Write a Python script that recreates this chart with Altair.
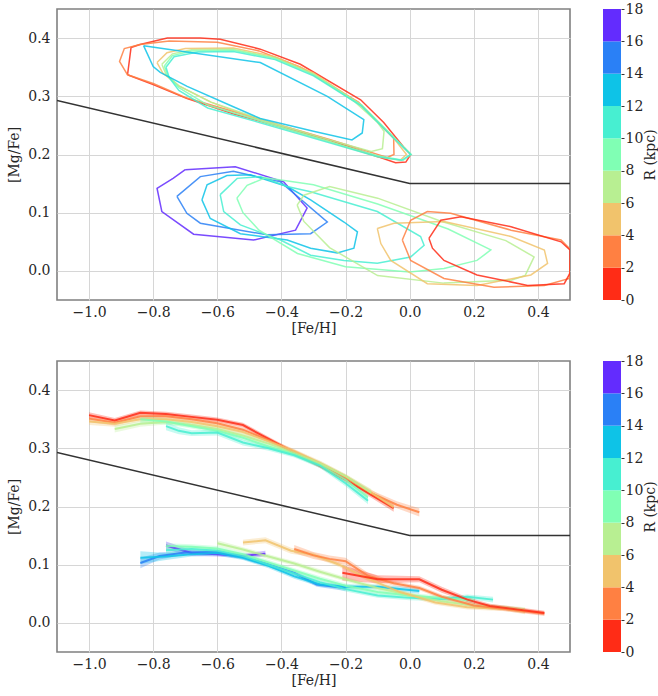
import altair as alt
import pandas as pd

# ---------------- data ----------------
R_BINS = ["0-2", "2-4", "4-6", "6-8", "8-10", "10-12", "12-14", "14-16", "16-18"]
R_LO = [0, 2, 4, 6, 8, 10, 12, 14, 16]
R_HI = [2, 4, 6, 8, 10, 12, 14, 16, 18]
R_COLORS = ["#ff2c16", "#ff8042", "#f1c36c", "#b8ef92", "#80ffb4",
            "#47efd1", "#0ec3e7", "#2a80f6", "#632cfe"]

X_TICKS = [-1.0, -0.8, -0.6, -0.4, -0.2, 0.0, 0.2, 0.4]
Y_TICKS = [0.0, 0.1, 0.2, 0.3, 0.4]
CB_TICKS = [0, 2, 4, 6, 8, 10, 12, 14, 16, 18]

# dividing line between high- and low-alpha sequences
divider_feh = [-1.1, 0.0, 0.5]
divider_mgfe = [0.293, 0.15, 0.15]

# --- top panel: density contours ([Fe/H], [Mg/Fe]) ---
contour_hi_0_2 = [(-0.88, 0.337), (-0.869, 0.384), (-0.841, 0.389), (-0.756, 0.400), (-0.653, 0.400),
                  (-0.591, 0.398), (-0.466, 0.381), (-0.341, 0.355), (-0.153, 0.294), (-0.081, 0.255),
                  (-0.019, 0.213), (0.003, 0.200), (-0.012, 0.187), (-0.044, 0.186), (-0.247, 0.224),
                  (-0.55, 0.270), (-0.694, 0.296), (-0.80, 0.320)]
contour_hi_2_4 = [(-0.88, 0.337), (-0.905, 0.360), (-0.89, 0.382), (-0.841, 0.389), (-0.75, 0.395),
                  (-0.60, 0.393), (-0.47, 0.378), (-0.34, 0.350), (-0.16, 0.290), (-0.09, 0.250),
                  (-0.05, 0.228), (-0.049, 0.200), (-0.07, 0.195), (-0.25, 0.226), (-0.55, 0.274),
                  (-0.70, 0.298), (-0.80, 0.322)]
contour_hi_4_6 = [(-0.788, 0.358), (-0.757, 0.375), (-0.70, 0.382), (-0.55, 0.383), (-0.42, 0.368),
                  (-0.30, 0.340), (-0.15, 0.285), (-0.06, 0.235), (-0.01, 0.200), (-0.03, 0.190),
                  (-0.10, 0.196), (-0.25, 0.222), (-0.45, 0.255), (-0.62, 0.290), (-0.72, 0.318),
                  (-0.77, 0.340)]
contour_hi_6_8 = [(-0.773, 0.355), (-0.74, 0.373), (-0.68, 0.380), (-0.55, 0.381), (-0.42, 0.366),
                  (-0.30, 0.338), (-0.17, 0.290), (-0.10, 0.255), (-0.08, 0.240), (-0.085, 0.210),
                  (-0.12, 0.205), (-0.25, 0.225), (-0.45, 0.258), (-0.62, 0.290), (-0.72, 0.318),
                  (-0.76, 0.338)]
contour_hi_8_10 = [(-0.765, 0.352), (-0.74, 0.370), (-0.68, 0.378), (-0.55, 0.379), (-0.42, 0.365),
                   (-0.30, 0.337), (-0.15, 0.285), (-0.05, 0.230), (0.005, 0.200), (-0.02, 0.190),
                   (-0.10, 0.198), (-0.25, 0.222), (-0.45, 0.255), (-0.63, 0.285), (-0.72, 0.315),
                   (-0.755, 0.335)]
contour_hi_10_12 = [(-0.76, 0.350), (-0.735, 0.368), (-0.66, 0.376), (-0.55, 0.377), (-0.42, 0.363),
                    (-0.30, 0.335), (-0.15, 0.283), (-0.05, 0.228), (0.003, 0.200), (-0.025, 0.190),
                    (-0.10, 0.196), (-0.25, 0.220), (-0.45, 0.252), (-0.63, 0.280), (-0.72, 0.310),
                    (-0.75, 0.332)]
contour_hi_12_14 = [(-0.83, 0.387), (-0.466, 0.358), (-0.257, 0.300), (-0.143, 0.260), (-0.148, 0.237),
                    (-0.18, 0.225), (-0.30, 0.240), (-0.466, 0.262), (-0.55, 0.282), (-0.694, 0.317),
                    (-0.778, 0.341), (-0.80, 0.351)]

contour_lo_16_18 = [(-0.700, 0.174), (-0.544, 0.179), (-0.393, 0.153), (-0.320, 0.108), (-0.356, 0.070),
                    (-0.487, 0.053), (-0.674, 0.063), (-0.773, 0.102), (-0.788, 0.142), (-0.738, 0.159)]
contour_lo_14_16 = [(-0.726, 0.128), (-0.653, 0.162), (-0.55, 0.171), (-0.403, 0.153), (-0.257, 0.084),
                    (-0.309, 0.064), (-0.445, 0.062), (-0.653, 0.082), (-0.695, 0.099)]
contour_lo_12_14 = [(-0.648, 0.122), (-0.632, 0.148), (-0.570, 0.164), (-0.497, 0.165), (-0.382, 0.145),
                    (-0.309, 0.122), (-0.205, 0.084), (-0.163, 0.067), (-0.174, 0.039), (-0.226, 0.031),
                    (-0.309, 0.039), (-0.382, 0.053), (-0.528, 0.064), (-0.622, 0.090)]
contour_lo_10_12 = [(-0.591, 0.131), (-0.538, 0.159), (-0.466, 0.162), (-0.382, 0.145), (-0.309, 0.136),
                    (-0.101, 0.102), (0.034, 0.059), (0.045, 0.044), (0.003, 0.024), (-0.101, 0.013),
                    (-0.205, 0.018), (-0.309, 0.027), (-0.403, 0.053), (-0.528, 0.079), (-0.580, 0.102)]
contour_lo_8_10 = [(-0.539, 0.125), (-0.507, 0.147), (-0.45, 0.160), (-0.30, 0.148), (-0.10, 0.115),
                   (0.12, 0.072), (0.253, 0.036), (0.21, 0.018), (0.107, 0.004), (0.0, -0.002),
                   (-0.20, 0.007), (-0.35, 0.030), (-0.47, 0.070), (-0.52, 0.100)]
contour_lo_6_8 = [(-0.351, 0.113), (-0.33, 0.130), (-0.25, 0.145), (-0.10, 0.125), (0.10, 0.085),
                  (0.30, 0.052), (0.388, 0.024), (0.36, -0.008), (0.316, -0.016), (0.106, -0.021),
                  (-0.10, -0.008), (-0.25, 0.040), (-0.33, 0.085)]
contour_lo_4_6 = [(-0.101, 0.073), (-0.049, 0.082), (0.107, 0.085), (0.316, 0.059), (0.42, 0.036),
                  (0.43, 0.013), (0.378, -0.007), (0.21, -0.025), (0.055, -0.022), (-0.059, 0.018),
                  (-0.09, 0.047)]
contour_lo_2_4 = [(-0.023, 0.053), (0.003, 0.087), (0.055, 0.102), (0.128, 0.099), (0.316, 0.070),
                  (0.472, 0.053), (0.503, 0.036), (0.498, -0.013), (0.42, -0.025), (0.263, -0.028),
                  (0.107, -0.013), (0.003, 0.018)]
contour_lo_0_2 = [(0.06, 0.056), (0.097, 0.087), (0.16, 0.093), (0.316, 0.076), (0.472, 0.050),
                  (0.50, 0.036), (0.50, -0.004), (0.482, -0.022), (0.368, -0.025), (0.21, -0.007),
                  (0.107, 0.018), (0.071, 0.039)]

# --- bottom panel: running medians (feh, mgfe, half-width of shaded band) ---
median_hi_0_2_feh = [-1.0, -0.92, -0.84, -0.76, -0.68, -0.6, -0.52, -0.44, -0.36, -0.28, -0.2, -0.12, -0.05]
median_hi_0_2_mgfe = [0.357, 0.348, 0.361, 0.359, 0.354, 0.349, 0.340, 0.316, 0.292, 0.270, 0.246, 0.220, 0.197]
median_hi_0_2_err = [0.005, 0.004, 0.004, 0.004, 0.004, 0.004, 0.004, 0.004, 0.004, 0.004, 0.004, 0.005, 0.006]
median_hi_2_4_feh = [-1.0, -0.92, -0.84, -0.76, -0.68, -0.6, -0.52, -0.44, -0.36, -0.28, -0.2, -0.12, -0.04, 0.03]
median_hi_2_4_mgfe = [0.351, 0.344, 0.355, 0.355, 0.350, 0.343, 0.332, 0.314, 0.294, 0.273, 0.250, 0.223, 0.203, 0.190]
median_hi_2_4_err = [0.006, 0.005, 0.004, 0.004, 0.004, 0.004, 0.004, 0.004, 0.004, 0.004, 0.004, 0.005, 0.006, 0.007]
median_hi_4_6_feh = [-1.0, -0.92, -0.84, -0.76, -0.68, -0.6, -0.52, -0.44, -0.36, -0.28, -0.2, -0.12, -0.05]
median_hi_4_6_mgfe = [0.346, 0.342, 0.350, 0.350, 0.345, 0.338, 0.328, 0.312, 0.295, 0.275, 0.252, 0.224, 0.199]
median_hi_4_6_err = [0.006, 0.005, 0.004, 0.004, 0.004, 0.004, 0.004, 0.004, 0.004, 0.004, 0.004, 0.005, 0.006]
median_hi_6_8_feh = [-0.92, -0.84, -0.76, -0.68, -0.6, -0.52, -0.44, -0.36, -0.28, -0.2, -0.12]
median_hi_6_8_mgfe = [0.333, 0.342, 0.345, 0.340, 0.333, 0.322, 0.308, 0.292, 0.274, 0.252, 0.224]
median_hi_6_8_err = [0.006, 0.005, 0.004, 0.004, 0.004, 0.004, 0.004, 0.004, 0.004, 0.004, 0.006]
median_hi_8_10_feh = [-0.84, -0.76, -0.68, -0.6, -0.52, -0.44, -0.36, -0.28, -0.2, -0.13]
median_hi_8_10_mgfe = [0.350, 0.346, 0.338, 0.330, 0.318, 0.303, 0.290, 0.271, 0.246, 0.216]
median_hi_8_10_err = [0.006, 0.005, 0.004, 0.004, 0.004, 0.004, 0.004, 0.004, 0.004, 0.006]
median_hi_10_12_feh = [-0.76, -0.72, -0.68, -0.6, -0.52, -0.44, -0.36, -0.28, -0.2, -0.13]
median_hi_10_12_mgfe = [0.338, 0.330, 0.326, 0.327, 0.310, 0.300, 0.288, 0.270, 0.240, 0.210]
median_hi_10_12_err = [0.007, 0.006, 0.005, 0.005, 0.005, 0.004, 0.004, 0.004, 0.005, 0.006]

median_lo_16_18_feh = [-0.76, -0.68, -0.6, -0.52, -0.45]
median_lo_16_18_mgfe = [0.133, 0.120, 0.118, 0.115, 0.119]
median_lo_16_18_err = [0.007, 0.005, 0.004, 0.004, 0.005]
median_lo_14_16_feh = [-0.84, -0.78, -0.7, -0.6, -0.52, -0.44, -0.36, -0.29, -0.2]
median_lo_14_16_mgfe = [0.103, 0.115, 0.121, 0.122, 0.113, 0.100, 0.086, 0.066, 0.060]
median_lo_14_16_err = [0.009, 0.006, 0.004, 0.004, 0.004, 0.004, 0.004, 0.004, 0.005]
median_lo_12_14_feh = [-0.84, -0.76, -0.68, -0.6, -0.52, -0.44, -0.36, -0.28, -0.2, -0.1, 0.03]
median_lo_12_14_mgfe = [0.112, 0.114, 0.118, 0.120, 0.112, 0.098, 0.080, 0.066, 0.062, 0.062, 0.055]
median_lo_12_14_err = [0.011, 0.006, 0.004, 0.004, 0.004, 0.004, 0.004, 0.004, 0.004, 0.004, 0.005]
median_lo_10_12_feh = [-0.76, -0.68, -0.6, -0.52, -0.44, -0.36, -0.28, -0.2, -0.1, 0.0, 0.1, 0.18, 0.26]
median_lo_10_12_mgfe = [0.125, 0.127, 0.124, 0.115, 0.100, 0.085, 0.070, 0.058, 0.047, 0.043, 0.041, 0.045, 0.040]
median_lo_10_12_err = [0.006, 0.004, 0.004, 0.004, 0.004, 0.004, 0.004, 0.004, 0.004, 0.004, 0.004, 0.004, 0.005]
median_lo_8_10_feh = [-0.76, -0.68, -0.6, -0.52, -0.44, -0.36, -0.28, -0.2, -0.1, 0.0, 0.1, 0.2]
median_lo_8_10_mgfe = [0.132, 0.131, 0.128, 0.118, 0.104, 0.090, 0.076, 0.064, 0.053, 0.047, 0.043, 0.038]
median_lo_8_10_err = [0.005, 0.004, 0.004, 0.004, 0.004, 0.004, 0.004, 0.004, 0.004, 0.004, 0.004, 0.005]
median_lo_6_8_feh = [-0.6, -0.52, -0.44, -0.36, -0.28, -0.2, -0.1, 0.0, 0.1, 0.2, 0.3, 0.36]
median_lo_6_8_mgfe = [0.137, 0.126, 0.114, 0.102, 0.088, 0.075, 0.060, 0.048, 0.037, 0.030, 0.026, 0.022]
median_lo_6_8_err = [0.005, 0.004, 0.004, 0.004, 0.004, 0.004, 0.004, 0.004, 0.004, 0.004, 0.004, 0.005]
median_lo_4_6_feh = [-0.52, -0.45, -0.37, -0.3, -0.22, -0.13, -0.03, 0.08, 0.18, 0.3, 0.36]
median_lo_4_6_mgfe = [0.138, 0.142, 0.124, 0.117, 0.100, 0.076, 0.053, 0.035, 0.027, 0.024, 0.020]
median_lo_4_6_err = [0.005, 0.005, 0.005, 0.004, 0.004, 0.004, 0.004, 0.004, 0.004, 0.004, 0.005]
median_lo_2_4_feh = [-0.36, -0.3, -0.25, -0.2, -0.13, -0.05, 0.03, 0.1, 0.2, 0.3, 0.42]
median_lo_2_4_mgfe = [0.127, 0.116, 0.110, 0.106, 0.081, 0.068, 0.060, 0.045, 0.030, 0.024, 0.016]
median_lo_2_4_err = [0.007, 0.006, 0.006, 0.006, 0.005, 0.004, 0.004, 0.004, 0.004, 0.004, 0.004]
median_lo_0_2_feh = [-0.21, -0.1, 0.03, 0.1, 0.18, 0.25, 0.42]
median_lo_0_2_mgfe = [0.086, 0.075, 0.075, 0.057, 0.040, 0.029, 0.017]
median_lo_0_2_err = [0.013, 0.007, 0.005, 0.005, 0.004, 0.004, 0.004]

# ---------------- tables ----------------
contour_sets = [
    ("hi_0_2", "0-2", contour_hi_0_2), ("hi_2_4", "2-4", contour_hi_2_4),
    ("hi_4_6", "4-6", contour_hi_4_6), ("hi_6_8", "6-8", contour_hi_6_8),
    ("hi_8_10", "8-10", contour_hi_8_10), ("hi_10_12", "10-12", contour_hi_10_12),
    ("hi_12_14", "12-14", contour_hi_12_14),
    ("lo_16_18", "16-18", contour_lo_16_18), ("lo_14_16", "14-16", contour_lo_14_16),
    ("lo_12_14", "12-14", contour_lo_12_14), ("lo_10_12", "10-12", contour_lo_10_12),
    ("lo_8_10", "8-10", contour_lo_8_10), ("lo_6_8", "6-8", contour_lo_6_8),
    ("lo_4_6", "4-6", contour_lo_4_6), ("lo_2_4", "2-4", contour_lo_2_4),
    ("lo_0_2", "0-2", contour_lo_0_2),
]
rows = []
for cid, rbin, pts in contour_sets:
    for i, (fx, my) in enumerate(list(pts) + [pts[0]]):
        rows.append({"cid": cid, "rbin": rbin, "i": i, "feh": fx, "mgfe": my})
contour_df = pd.DataFrame(rows)

median_sets = [
    ("hi_0_2", "0-2", median_hi_0_2_feh, median_hi_0_2_mgfe, median_hi_0_2_err),
    ("hi_2_4", "2-4", median_hi_2_4_feh, median_hi_2_4_mgfe, median_hi_2_4_err),
    ("hi_4_6", "4-6", median_hi_4_6_feh, median_hi_4_6_mgfe, median_hi_4_6_err),
    ("hi_6_8", "6-8", median_hi_6_8_feh, median_hi_6_8_mgfe, median_hi_6_8_err),
    ("hi_8_10", "8-10", median_hi_8_10_feh, median_hi_8_10_mgfe, median_hi_8_10_err),
    ("hi_10_12", "10-12", median_hi_10_12_feh, median_hi_10_12_mgfe, median_hi_10_12_err),
    ("lo_16_18", "16-18", median_lo_16_18_feh, median_lo_16_18_mgfe, median_lo_16_18_err),
    ("lo_14_16", "14-16", median_lo_14_16_feh, median_lo_14_16_mgfe, median_lo_14_16_err),
    ("lo_12_14", "12-14", median_lo_12_14_feh, median_lo_12_14_mgfe, median_lo_12_14_err),
    ("lo_10_12", "10-12", median_lo_10_12_feh, median_lo_10_12_mgfe, median_lo_10_12_err),
    ("lo_8_10", "8-10", median_lo_8_10_feh, median_lo_8_10_mgfe, median_lo_8_10_err),
    ("lo_6_8", "6-8", median_lo_6_8_feh, median_lo_6_8_mgfe, median_lo_6_8_err),
    ("lo_4_6", "4-6", median_lo_4_6_feh, median_lo_4_6_mgfe, median_lo_4_6_err),
    ("lo_2_4", "2-4", median_lo_2_4_feh, median_lo_2_4_mgfe, median_lo_2_4_err),
    ("lo_0_2", "0-2", median_lo_0_2_feh, median_lo_0_2_mgfe, median_lo_0_2_err),
]
rows = []
for cid, rbin, fx, my, er in median_sets:
    for i in range(len(fx)):
        rows.append({"cid": cid, "rbin": rbin, "i": i, "feh": fx[i], "mgfe": my[i],
                     "lo": my[i] - er[i], "hi": my[i] + er[i]})
median_df = pd.DataFrame(rows)

divider_df = pd.DataFrame({"feh": divider_feh, "mgfe": divider_mgfe})
cbar_df = pd.DataFrame({"lo": R_LO, "hi": R_HI, "rbin": R_BINS})

# ---------------- encodings ----------------
FONT = "DejaVu Serif"
PW, PH = 513, 291

xscale = alt.Scale(domain=[-1.1, 0.5], nice=False, zero=False)
yscale = alt.Scale(domain=[-0.05, 0.45], nice=False, zero=False)
xaxis = alt.Axis(title="[Fe/H]", values=X_TICKS, format=".1f", ticks=False, tickSize=0,
                 domain=False, labelPadding=5, titlePadding=2)
yaxis = alt.Axis(title="[Mg/Fe]", values=Y_TICKS, format=".1f", ticks=False, tickSize=0,
                 domain=False, labelPadding=7, titlePadding=6)
color = alt.Color("rbin:N", scale=alt.Scale(domain=R_BINS, range=R_COLORS), legend=None)


def base_layers(extra):
    div = alt.Chart(divider_df).mark_line(color="#333333", strokeWidth=1.5, clip=True).encode(
        x=alt.X("feh:Q", scale=xscale, axis=xaxis),
        y=alt.Y("mgfe:Q", scale=yscale, axis=yaxis),
    )
    return alt.layer(*extra, div).properties(width=PW, height=PH)


contours = alt.Chart(contour_df).mark_line(strokeWidth=1.5, opacity=0.85, clip=True).encode(
    x=alt.X("feh:Q", scale=xscale, axis=xaxis),
    y=alt.Y("mgfe:Q", scale=yscale, axis=yaxis),
    color=color, detail="cid:N", order="i:Q",
)
top = base_layers([contours])

bands = alt.Chart(median_df).mark_area(opacity=0.3, clip=True).encode(
    x=alt.X("feh:Q", scale=xscale, axis=xaxis),
    y=alt.Y("lo:Q", scale=yscale, axis=yaxis),
    y2="hi:Q",
    color=color, detail="cid:N",
)
lines = alt.Chart(median_df).mark_line(strokeWidth=2, opacity=0.85, clip=True).encode(
    x=alt.X("feh:Q", scale=xscale, axis=xaxis),
    y=alt.Y("mgfe:Q", scale=yscale, axis=yaxis),
    color=color, detail="cid:N", order="i:Q",
)
bottom = base_layers([bands, lines])


def colorbar():
    return alt.Chart(cbar_df).mark_rect().encode(
        y=alt.Y("lo:Q", scale=alt.Scale(domain=[0, 18], nice=False, zero=False),
                axis=alt.Axis(orient="right", values=CB_TICKS, title="R (kpc)", grid=False,
                              domain=False, tickSize=3, tickColor="#333333", labelPadding=1,
                              titleAngle=270, titleBaseline="top", titlePadding=1)),
        y2="hi:Q",
        x=alt.value(0), x2=alt.value(18),
        color=color,
    ).properties(width=18, height=PH, view=alt.ViewBackground(strokeWidth=0))


row1 = alt.hconcat(top, colorbar(), spacing=32)
row2 = alt.hconcat(bottom, colorbar(), spacing=32)

chart = alt.vconcat(row1, row2, spacing=18).properties(
    padding={"left": 6, "top": 2, "right": 0, "bottom": 0},
    background="white",
).configure_axis(
    labelFont=FONT, titleFont=FONT, labelFontSize=14, titleFontSize=14,
    labelColor="#262626", titleColor="#262626", titleFontWeight="normal",
    gridColor="#d6d6d6", gridWidth=1,
).configure_view(
    stroke="#808080", strokeWidth=1.6,
)

chart.save("out.html", embed_options={"renderer": "svg", "actions": False})
